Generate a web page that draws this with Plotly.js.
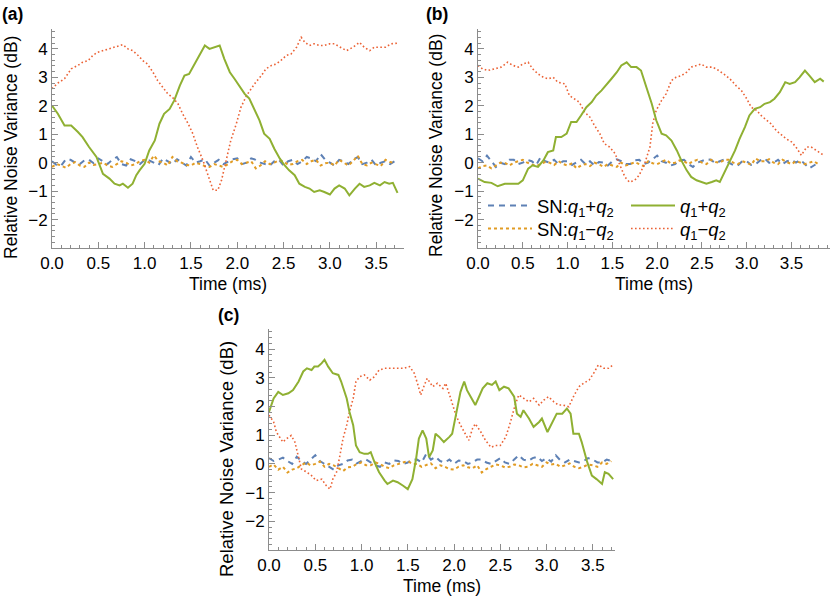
<!DOCTYPE html>
<html><head><meta charset="utf-8">
<script src="https://cdn.plot.ly/plotly-3.0.1.min.js"></script>
<style>html,body{margin:0;padding:0;background:#fff}#chart{width:831px;height:599px}</style>
</head><body><div id="chart"></div><script>
// ---------- Panel (a) ----------
const aGreenT = [0,0.063,0.135,0.207,0.28,0.33,0.40,0.48,0.55,0.62,0.675,0.73,0.765,0.82,0.87,0.91,0.945,1.0,1.05,1.11,1.16,1.21,1.27,1.32,1.38,1.43,1.48,1.54,1.59,1.65,1.70,1.75,1.81,1.86,1.92,1.97,2.02,2.08,2.13,2.19,2.24,2.29,2.35,2.40,2.46,2.51,2.56,2.62,2.67,2.73,2.78,2.83,2.89,2.94,3.0,3.05,3.10,3.16,3.21,3.27,3.32,3.37,3.43,3.48,3.54,3.59,3.64,3.68,3.73];
const aGreenV = [2.01,1.72,1.31,1.31,1.08,0.9,0.55,0.2,-0.39,-0.56,-0.74,-0.8,-0.74,-0.88,-0.74,-0.44,-0.27,-0.04,0.43,0.78,1.37,1.72,1.89,2.19,2.71,3.06,3.12,3.47,3.77,4.12,4.0,4.06,4.12,3.65,3.18,2.95,2.71,2.42,2.25,1.84,1.49,1.02,0.84,0.49,0.14,-0.09,-0.27,-0.44,-0.74,-0.85,-0.91,-1.03,-0.97,-1.03,-1.12,-0.91,-0.80,-0.91,-1.15,-0.91,-0.74,-0.85,-0.8,-0.71,-0.8,-0.68,-0.74,-0.71,-1.06];
const aRedT = [0,0.063,0.135,0.207,0.28,0.33,0.39,0.44,0.49,0.55,0.62,0.69,0.765,0.82,0.87,0.93,0.98,1.03,1.09,1.14,1.20,1.25,1.30,1.36,1.41,1.47,1.52,1.57,1.63,1.68,1.74,1.79,1.83,1.88,1.93,1.99,2.04,2.10,2.15,2.20,2.26,2.31,2.37,2.42,2.47,2.53,2.58,2.64,2.69,2.73,2.78,2.83,2.89,2.94,3.0,3.05,3.10,3.18,3.25,3.32,3.37,3.43,3.48,3.55,3.6,3.66,3.73];
const aRedV = [2.6,2.8,2.95,3.3,3.42,3.53,3.59,3.77,3.88,3.94,4.0,4.06,4.15,4.0,3.94,3.77,3.59,3.47,3.18,2.89,2.65,2.42,2.3,2.07,1.72,1.37,1.02,0.55,0.08,-0.39,-0.97,-0.97,-0.62,0.08,0.78,1.37,1.95,2.36,2.6,2.83,3.06,3.3,3.42,3.47,3.59,3.77,3.82,4.06,4.41,4.23,4.12,4.18,4.12,4.12,4.18,4.18,4.08,3.94,4.06,4.23,4.06,3.94,4.06,4.06,4.06,4.18,4.2];
const snT = [0,0.05,0.1,0.15,0.2,0.25,0.3,0.35,0.4,0.45,0.5,0.55,0.6,0.65,0.7,0.75,0.8,0.85,0.9,0.95,1.0,1.05,1.1,1.15,1.2,1.25,1.3,1.35,1.4,1.45,1.5,1.55,1.6,1.65,1.7,1.75,1.8,1.85,1.9,1.95,2.0,2.05,2.1,2.15,2.2,2.25,2.3,2.35,2.4,2.45,2.5,2.55,2.6,2.65,2.7,2.75,2.8,2.85,2.9,2.95,3.0,3.05,3.1,3.15,3.2,3.25,3.3,3.35,3.4,3.45,3.5,3.55,3.6,3.65,3.7];
const aBlue = [0.05,-0.08,-0.1,0.12,0.1,0.0,-0.05,0.08,0.1,-0.02,0.15,0.05,-0.05,0.1,0.2,-0.05,-0.1,0.12,0.05,-0.05,0.1,0.08,0.0,-0.08,0.15,0.05,-0.05,0.12,0.0,-0.1,0.2,0.0,0.05,0.12,-0.1,0.0,0.1,-0.05,0.05,0.12,0.15,-0.05,0.0,0.15,0.1,0.0,-0.05,-0.1,0.05,0.1,-0.1,0.05,0.1,-0.05,0.05,0.2,0.15,0.05,0.3,0.1,0.0,-0.1,0.1,0.05,-0.05,0.1,0.2,-0.05,0.0,0.1,-0.1,0.0,0.05,-0.05,0.05];
const aOrange = [-0.15,-0.05,-0.1,-0.18,-0.05,0.02,-0.1,-0.15,0.0,-0.08,-0.05,0.0,-0.1,-0.15,-0.05,0.05,0.0,-0.1,-0.05,0.05,0.1,0.0,0.25,0.05,0.0,-0.1,0.2,0.05,0.0,-0.08,-0.1,0.0,-0.05,-0.12,-0.15,-0.05,-0.1,-0.15,-0.05,0.05,0.1,-0.05,0.0,0.05,-0.2,-0.1,0.05,-0.05,0.0,0.08,0.05,-0.08,-0.05,0.05,0.1,-0.05,0.05,0.1,-0.1,-0.02,0.0,-0.1,0.1,0.0,-0.1,0.05,0.25,-0.05,-0.1,0.0,-0.05,-0.12,0.1,0.02,0.0];

// ---------- Panel (b) ----------
const bGreenT = [0,0.074,0.15,0.22,0.30,0.37,0.45,0.50,0.56,0.61,0.67,0.73,0.78,0.84,0.87,0.93,0.99,1.04,1.10,1.15,1.21,1.27,1.32,1.38,1.43,1.49,1.55,1.60,1.66,1.71,1.77,1.82,1.88,1.94,1.99,2.05,2.10,2.16,2.22,2.27,2.33,2.38,2.44,2.49,2.55,2.61,2.66,2.70,2.76,2.81,2.87,2.92,2.98,3.03,3.09,3.15,3.20,3.26,3.31,3.37,3.43,3.48,3.54,3.59,3.65,3.70,3.76,3.82,3.86];
const bGreenV = [-0.56,-0.68,-0.71,-0.83,-0.74,-0.74,-0.74,-0.62,-0.21,-0.09,-0.15,0.08,0.37,0.43,0.9,0.9,1.02,1.43,1.43,1.66,1.95,2.13,2.36,2.54,2.71,2.95,3.18,3.42,3.53,3.36,3.36,3.24,2.65,2.07,1.49,1.02,0.96,0.78,0.43,0.08,-0.27,-0.5,-0.62,-0.68,-0.74,-0.68,-0.62,-0.68,-0.27,0.08,0.43,0.84,1.25,1.66,1.89,1.95,2.07,2.13,2.25,2.48,2.83,2.77,2.83,3.0,3.24,3.06,2.83,2.95,2.85];
const bRedT = [0,0.05,0.11,0.19,0.26,0.33,0.39,0.45,0.50,0.56,0.61,0.67,0.73,0.78,0.84,0.89,0.97,1.02,1.08,1.13,1.19,1.25,1.30,1.36,1.41,1.47,1.53,1.58,1.64,1.69,1.75,1.80,1.86,1.92,1.95,1.99,2.05,2.10,2.16,2.21,2.27,2.33,2.38,2.44,2.49,2.55,2.61,2.66,2.72,2.77,2.83,2.88,2.94,3.0,3.05,3.11,3.16,3.22,3.27,3.33,3.39,3.44,3.50,3.55,3.61,3.67,3.72,3.78,3.83,3.86];
const bRedV = [3.42,3.3,3.24,3.3,3.36,3.53,3.42,3.36,3.47,3.53,3.3,3.12,3.0,2.95,3.0,2.83,2.77,2.36,2.25,2.13,1.78,1.6,1.31,1.02,0.67,0.55,0.32,-0.04,-0.5,-0.68,-0.62,-0.44,-0.04,0.55,1.37,1.84,2.19,2.42,2.89,3.0,3.06,3.18,3.36,3.42,3.47,3.36,3.36,3.3,3.18,3.06,2.89,2.71,2.54,2.25,1.95,1.84,1.66,1.49,1.37,1.13,0.96,0.84,0.73,0.55,0.26,0.55,0.55,0.43,0.32,0.26];
const snTb = [0,0.05,0.1,0.15,0.2,0.25,0.3,0.35,0.4,0.45,0.5,0.55,0.6,0.65,0.7,0.75,0.8,0.85,0.9,0.95,1.0,1.05,1.1,1.15,1.2,1.25,1.3,1.35,1.4,1.45,1.5,1.55,1.6,1.65,1.7,1.75,1.8,1.85,1.9,1.95,2.0,2.05,2.1,2.15,2.2,2.25,2.3,2.35,2.4,2.45,2.5,2.55,2.6,2.65,2.7,2.75,2.8,2.85,2.9,2.95,3.0,3.05,3.1,3.15,3.2,3.25,3.3,3.35,3.4,3.45,3.5,3.55,3.6,3.65,3.7,3.75,3.8];
const bBlue = [0.15,0.05,0.25,0.05,-0.15,0.0,-0.05,0.1,0.1,-0.05,0.0,0.1,0.05,-0.08,0.2,0.05,0.0,0.1,-0.05,0.05,0.05,-0.08,0.0,0.1,-0.05,0.05,-0.1,0.02,0.0,-0.1,0.05,0.12,0.05,-0.05,-0.05,0.08,0.1,-0.05,0.0,0.12,0.25,0.05,0.0,-0.1,-0.05,0.08,0.1,-0.05,-0.15,0.0,0.05,0.12,0.1,-0.02,0.05,0.12,0.0,-0.08,-0.1,0.05,0.05,-0.08,-0.05,0.08,0.15,0.0,0.0,0.1,-0.05,0.05,0.1,0.0,0.1,-0.05,-0.2,-0.1,0.0];
const bOrange = [-0.2,-0.12,-0.1,-0.2,-0.1,0.0,0.0,-0.1,0.0,0.05,0.1,0.0,-0.05,-0.12,-0.05,0.02,0.0,-0.08,0.05,-0.05,-0.1,-0.02,-0.2,-0.1,-0.05,-0.12,0.0,-0.05,-0.15,-0.05,-0.1,-0.15,0.0,-0.1,-0.05,0.02,-0.05,-0.12,0.05,-0.02,-0.05,0.02,0.1,-0.02,0.0,0.08,0.05,-0.05,0.05,0.1,0.0,-0.05,0.1,0.02,0.0,0.1,0.1,0.0,-0.05,0.05,0.0,-0.08,0.15,0.05,0.05,0.12,0.0,-0.05,0.1,0.02,-0.05,0.05,0.0,-0.05,0.0,0.05,-0.05];

// ---------- Panel (c) ----------
const cGreenT = [0.0,0.05,0.10,0.15,0.21,0.26,0.32,0.37,0.41,0.46,0.49,0.53,0.57,0.60,0.64,0.69,0.75,0.78,0.84,0.87,0.91,0.94,0.98,1.03,1.07,1.10,1.14,1.19,1.25,1.28,1.34,1.39,1.45,1.50,1.55,1.59,1.62,1.66,1.70,1.73,1.77,1.80,1.84,1.89,1.95,1.98,2.02,2.07,2.11,2.14,2.18,2.23,2.27,2.31,2.36,2.41,2.45,2.49,2.54,2.59,2.65,2.68,2.72,2.75,2.81,2.86,2.92,2.95,3.01,3.06,3.11,3.17,3.22,3.26,3.29,3.35,3.38,3.44,3.49,3.54,3.60,3.63,3.67,3.72];
const cGreenV = [1.81,2.28,2.51,2.4,2.46,2.57,2.87,3.22,3.33,3.27,3.39,3.39,3.51,3.63,3.39,3.16,3.1,2.87,2.28,1.81,1.35,0.64,0.41,0.35,0.35,0.41,0.06,-0.29,-0.58,-0.70,-0.58,-0.64,-0.76,-0.88,-0.53,0.18,0.88,1.17,0.88,0.23,0.47,1.05,0.94,0.76,0.94,1.05,1.7,2.51,2.87,2.57,2.34,2.05,2.34,2.63,2.81,2.75,2.87,2.57,2.69,2.63,2.34,1.75,1.64,1.87,1.58,1.29,1.46,1.58,1.11,1.46,1.75,1.75,1.93,1.75,1.05,1.05,0.76,0.06,-0.41,-0.53,-0.70,-0.29,-0.35,-0.53];
const cRedT = [0.0,0.05,0.08,0.12,0.15,0.19,0.24,0.28,0.32,0.35,0.41,0.46,0.51,0.57,0.62,0.66,0.69,0.73,0.76,0.80,0.84,0.87,0.91,0.94,0.98,1.03,1.09,1.14,1.19,1.25,1.30,1.36,1.41,1.46,1.52,1.57,1.61,1.64,1.68,1.71,1.77,1.82,1.88,1.91,1.97,2.02,2.07,2.13,2.16,2.20,2.23,2.29,2.34,2.40,2.45,2.50,2.56,2.61,2.66,2.70,2.75,2.81,2.86,2.92,2.97,3.02,3.08,3.13,3.18,3.24,3.29,3.35,3.40,3.46,3.51,3.56,3.62,3.67,3.72];
const cRedV = [1.7,1.46,1.11,0.88,0.76,0.88,0.99,0.76,0.18,-0.18,-0.29,-0.41,-0.58,-0.53,-0.76,-0.88,-0.53,-0.29,0.18,0.88,1.35,1.81,2.28,2.87,3.04,3.1,2.92,3.04,3.27,3.33,3.33,3.33,3.33,3.33,3.39,3.16,2.75,2.4,2.75,2.98,2.69,2.81,2.63,2.81,2.22,1.7,1.35,0.99,0.82,1.23,1.4,1.11,0.82,0.58,0.64,0.64,0.94,1.46,2.05,2.4,2.28,2.16,2.28,2.05,2.22,2.34,2.16,2.05,2.05,1.99,2.34,2.69,2.81,2.92,3.16,3.45,3.33,3.33,3.45];
const cBlue = [0.2,0.1,0.15,0.22,0.1,0.0,0.25,0.1,0.0,0.15,0.3,0.1,0.0,-0.12,-0.2,-0.05,0.0,0.12,0.15,0.02,0.1,0.15,0.05,-0.05,-0.1,0.05,0.0,0.12,0.1,0.0,0.05,0.15,0.15,0.05,0.35,0.15,0.25,0.1,0.05,0.15,0.0,0.12,0.1,0.0,0.05,0.15,0.15,0.05,0.0,0.1,0.2,0.05,0.0,0.15,0.3,0.15,0.1,0.2,0.25,0.1,0.2,0.08,0.3,0.12,0.05,0.15,0.1,0.05,0.1,0.2,0.15,0.05,0.05,0.15,0.1];
const cOrange = [-0.1,-0.02,-0.2,-0.1,-0.3,-0.2,-0.15,-0.05,0.05,-0.05,0.0,0.08,-0.1,0.0,-0.05,-0.15,-0.25,-0.12,-0.1,0.0,0.05,-0.05,-0.05,0.05,0.0,-0.1,-0.15,-0.05,0.0,0.05,0.1,0.0,0.0,-0.1,-0.05,0.02,-0.15,-0.05,-0.1,-0.18,-0.2,-0.1,-0.05,-0.12,-0.15,-0.05,-0.3,-0.18,-0.1,-0.02,-0.05,-0.12,-0.1,-0.02,-0.05,-0.12,-0.1,0.0,-0.05,-0.1,0.05,-0.02,0.0,-0.1,-0.05,0.02,-0.1,-0.15,-0.1,-0.02,-0.05,-0.1,0.05,0.0,0.1];

// ---------- tick labels and texts ----------
const yTickVals = [-2,-1,0,1,2,3,4];
const yTickText = ['\u22122','\u22121','0','1','2','3','4'];
const xTickVals = [0,0.5,1,1.5,2,2.5,3,3.5];
const xTickText = ['0.0','0.5','1.0','1.5','2.0','2.5','3.0','3.5'];
const yTitle = 'Relative Noise Variance (dB)';
const xTitle = 'Time (ms)';
const panelLabels = ['(a)', '(b)', '(c)'];

const names = {
  snPlus: 'SN:<i>q</i><sub>1</sub>+<i>q</i><sub>2</sub>',
  snMinus: 'SN:<i>q</i><sub>1</sub>\u2212<i>q</i><sub>2</sub>',
  plus: '<i>q</i><sub>1</sub>+<i>q</i><sub>2</sub>',
  minus: '<i>q</i><sub>1</sub>\u2212<i>q</i><sub>2</sub>'
};
const COL = {blue:'#5E81B5', orange:'#E19C24', green:'#8FB032', red:'#EB6235'};
const FONT = 'Liberation Sans, Arial, sans-serif';

function tr(x, y, color, dash, width, xa, ya, name, show, legend) {
  return {type:'scatter', mode:'lines', x:x, y:y, xaxis:xa, yaxis:ya, name:name,
    showlegend:show, legend:legend, line:{color:color, dash:dash, width:width}, hoverinfo:'skip'};
}
const D_BLUE = '6px,5px', D_ORANGE = '3px,3px', D_RED = '1.6px,2.4px';
function panel(xa, ya, tS, blue, orange, gT, gV, rT, rV, show) {
  return [
    tr(tS, blue, COL.blue, D_BLUE, 2, xa, ya, names.snPlus, show, 'legend'),
    tr(tS, orange, COL.orange, D_ORANGE, 2, xa, ya, names.snMinus, show, 'legend3'),
    tr(rT, rV, COL.red, D_RED, 1.6, xa, ya, names.minus, show, 'legend4'),
    tr(gT, gV, COL.green, 'solid', 2, xa, ya, names.plus, show, 'legend2')
  ];
}
const data = [].concat(
  panel('x', 'y', snT, aBlue, aOrange, aGreenT, aGreenV, aRedT, aRedV, false),
  panel('x2', 'y2', snTb, bBlue, bOrange, bGreenT, bGreenV, bRedT, bRedV, true),
  panel('x3', 'y3', snT, cBlue, cOrange, cGreenT, cGreenV, cRedT, cRedV, false)
);
const W = 831, H = 599;
const AX = '#8c8c8c';
function xax(domain, maxT, anchor) {
  return {domain:domain, range:[0, maxT], anchor:anchor, showgrid:false, zeroline:false,
    showline:true, linecolor:AX, linewidth:1, ticks:'inside', ticklen:6, tickcolor:AX, tickwidth:1,
    tickmode:'array', tickvals:xTickVals, ticktext:xTickText, tickfont:{size:17, color:'#000', family:FONT},
    minor:{ticks:'inside', ticklen:3, tickcolor:AX, tickmode:'linear', tick0:0, dtick:0.1, showgrid:false},
    title:{text:xTitle, font:{size:17.5, color:'#000', family:FONT}, standoff:5},
    automargin:false, fixedrange:true};
}
function yax(domain, anchor) {
  return {domain:domain, range:[-3, 4.7], anchor:anchor, showgrid:false, zeroline:false,
    showline:true, linecolor:AX, linewidth:1, ticks:'inside', ticklen:6, tickcolor:AX, tickwidth:1,
    tickmode:'array', tickvals:yTickVals, ticktext:yTickText, tickfont:{size:17, color:'#000', family:FONT},
    minor:{ticks:'inside', ticklen:3, tickcolor:AX, tickmode:'linear', tick0:0, dtick:0.2, showgrid:false},
    automargin:false, fixedrange:true};
}
function yTitleAnn(cx, cy, size) {
  return {text:yTitle, xref:'paper', yref:'paper', x:cx/W, y:(H-cy)/H, xanchor:'center', yanchor:'middle',
    textangle:-90, showarrow:false, font:{size:size, color:'#000', family:FONT}};
}
function labelAnn(i, lx, ty) {
  return {text:'<b>' + panelLabels[i] + '</b>', xref:'paper', yref:'paper', x:lx/W, y:(H-ty)/H,
    xanchor:'left', yanchor:'top', showarrow:false, font:{size:17.5, color:'#000', family:FONT}};
}
function leg(px, py) {
  return {x:px/W, y:(H-py)/H, xanchor:'left', yanchor:'top', bgcolor:'rgba(0,0,0,0)', borderwidth:0,
    font:{size:18.5, color:'#000', family:FONT}, tracegroupgap:0, itemwidth:44};
}
const topDom = [(H-248)/H, (H-29)/H];
const botDom = [(H-550)/H, (H-329)/H];
const layout = {
  width:W, height:H, margin:{l:0, r:0, t:0, b:0}, paper_bgcolor:'#fff', plot_bgcolor:'rgba(0,0,0,0)',
  font:{family:FONT, color:'#000'},
  xaxis: xax([52/W, 404/W], 3.80, 'y'),
  yaxis: yax(topDom, 'x'),
  xaxis2: xax([478/W, 830/W], 3.93, 'y2'),
  yaxis2: yax(topDom, 'x2'),
  xaxis3: xax([269/W, 615/W], 3.74, 'y3'),
  yaxis3: yax(botDom, 'x3'),
  legend: leg(483, 187),
  legend2: leg(626, 187),
  legend3: leg(483, 210),
  legend4: leg(626, 210),
  annotations: [
    labelAnn(0, 0, 2), labelAnn(1, 424, 2), labelAnn(2, 216, 303),
    yTitleAnn(11, 148, 17.5), yTitleAnn(436, 146, 17.5), yTitleAnn(226, 459, 18.5)
  ],
  showlegend:true
};
Plotly.newPlot('chart', data, layout, {staticPlot:true, displayModeBar:false});
</script></body></html>
